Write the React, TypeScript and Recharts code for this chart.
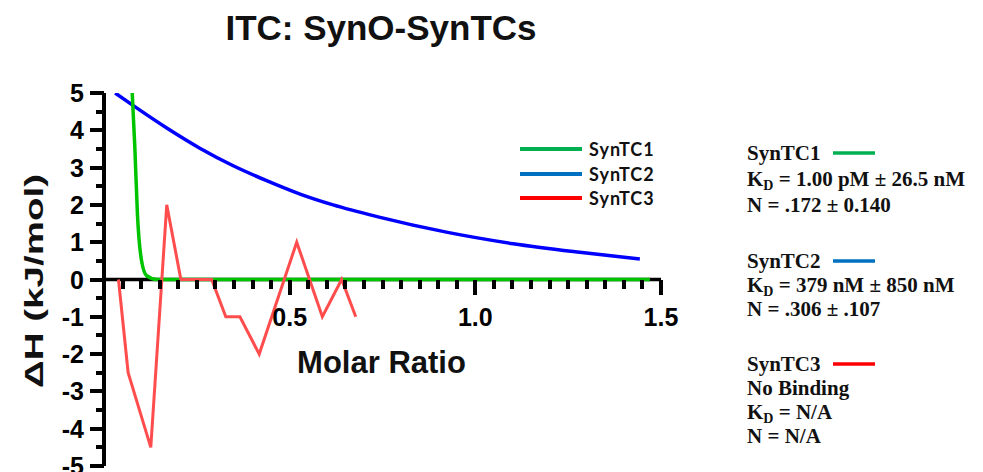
import { Legend, Line, LineChart, ReferenceLine, XAxis, YAxis } from "recharts";

const W = 983;
const H = 472;
// plot box: x 0 -> 104px, x 1.5 -> 661px, y 5 -> 93px, y -5 -> 466px
const PLOT = { left: 104, top: 93, right: 661, bottom: 466 };
const ZERO_Y = (PLOT.top + PLOT.bottom) / 2; // domain is symmetric, so y = 0 sits mid-plot

const SANS = "'Liberation Sans', Arial, sans-serif";
const SERIF = "'Liberation Serif', 'Times New Roman', serif";

const seriesNames = ["SynTC1", "SynTC2", "SynTC3"];
const lineColors = ["#00C400", "#0000FF", "#FF4D4D"];
const legendColors = ["#00B050", "#0070C0", "#FF0000"];

// SynTC1 – fitted curve, drops almost vertically near 0.08
const syntc1X = [0.076, 0.083, 0.09, 0.101, 0.115, 0.142, 0.3, 0.6, 1.0, 1.47];
const syntc1Y = [5.0, 3.55, 1.76, 0.51, 0.1, 0, 0, 0, 0, 0];

// SynTC2 – fitted curve
const syntc2X = [0.03, 0.079, 0.169, 0.258, 0.348, 0.438, 0.528, 0.617, 0.738, 0.922, 1.102, 1.281, 1.443];
const syntc2Y = [5.0, 4.66, 4.06, 3.52, 3.05, 2.65, 2.29, 2.0, 1.68, 1.27, 0.96, 0.73, 0.55];

// SynTC3 – raw injections, no binding
const syntc3X = [0.039, 0.065, 0.126, 0.169, 0.207, 0.29, 0.328, 0.366, 0.418, 0.519, 0.588, 0.64, 0.678];
const syntc3Y = [0, -2.5, -4.5, 2.0, 0, 0, -1, -1, -2, 1.0, -1, 0, -1];

const xTicks = [
  0.05, 0.1, 0.15, 0.2, 0.25, 0.3, 0.35, 0.4, 0.45, 0.5, 0.55, 0.6, 0.65, 0.7, 0.75,
  0.8, 0.85, 0.9, 0.95, 1.0, 1.05, 1.1, 1.15, 1.2, 1.25, 1.3, 1.35, 1.4, 1.45, 1.5,
];
const xLabels = [0.5, 1.0, 1.5];
const yTicks = [-5, -4.5, -4, -3.5, -3, -2.5, -2, -1.5, -1, -0.5, 0, 0.5, 1, 1.5, 2, 2.5, 3, 3.5, 4, 4.5, 5];

const toPoints = (xs: number[], ys: number[]) => xs.map((x, i) => ({ x, y: ys[i] }));

const syntc1 = toPoints(syntc1X, syntc1Y);
const syntc2 = toPoints(syntc2X, syntc2Y);
const syntc3 = toPoints(syntc3X, syntc3Y);

function XTick(props: any) {
  const { x, payload } = props;
  const v = payload.value as number;
  const major = xLabels.some((m) => Math.abs(m - v) < 1e-6);
  return (
    <g>
      <rect x={Math.round(x) - 2} y={Math.round(ZERO_Y)} width={4} height={major ? 15 : 9} fill="#000" />
      {major && (
        <text x={x} y={ZERO_Y + 46} textAnchor="middle" fontFamily={SANS} fontWeight="bold" fontSize={25} fill="#000">
          {v.toFixed(1)}
        </text>
      )}
    </g>
  );
}

function YTick(props: any) {
  const { x, y, payload } = props;
  const v = payload.value as number;
  const major = Number.isInteger(v);
  const len = major ? 14 : 8;
  return (
    <g>
      <rect x={Math.round(x) - len} y={Math.round(y) - 2} width={len} height={4} fill="#000" />
      {major && (
        <text x={x - 20} y={y} dy="0.36em" textAnchor="end" fontFamily={SANS} fontWeight="bold" fontSize={25} fill="#000">
          {String(v)}
        </text>
      )}
    </g>
  );
}

function ChartLegend() {
  return (
    <div style={{ fontFamily: "Lato, 'Open Sans', sans-serif", fontWeight: 700, fontSize: 18, color: "#111" }}>
      {seriesNames.map((name, i) => (
        <div key={name} style={{ display: "flex", alignItems: "center", height: 24.5 }}>
          <span style={{ display: "inline-block", width: 62, height: 4, background: legendColors[i], marginRight: 7 }} />
          <span style={{ letterSpacing: 1 }}>{name}</span>
        </div>
      ))}
    </div>
  );
}

function Notes() {
  const t = { fontFamily: SERIF, fontWeight: "bold" as const, fontSize: 21, fill: "#111" };
  const kd = (y: number, rest: string) => (
    <text x={747} y={y} {...t}>
      K<tspan fontSize={14} dy={4}>D</tspan>
      <tspan dy={-4}> = {rest}</tspan>
    </text>
  );
  return (
    <g>
      <text x={747} y={160} {...t}>SynTC1</text>
      <line x1={833} x2={875} y1={153} y2={153} stroke={legendColors[0]} strokeWidth={3.5} />
      {kd(186, "1.00 pM ± 26.5 nM")}
      <text x={747} y={212} {...t}>N = .172 ± 0.140</text>

      <text x={747} y={268} {...t}>SynTC2</text>
      <line x1={833} x2={875} y1={261} y2={261} stroke={legendColors[1]} strokeWidth={3.5} />
      {kd(292, "379 nM ± 850 nM")}
      <text x={747} y={316} {...t}>N = .306 ± .107</text>

      <text x={747} y={371} {...t}>SynTC3</text>
      <line x1={833} x2={875} y1={364} y2={364} stroke={legendColors[2]} strokeWidth={3.5} />
      <text x={747} y={395} {...t}>No Binding</text>
      {kd(419, "N/A")}
      <text x={747} y={443} {...t}>N = N/A</text>
    </g>
  );
}

export default function App() {
  return (
    <div style={{ position: "absolute", left: 0, top: 0, width: W, height: H, background: "#fff" }}>
      <LineChart
        width={W}
        height={H}
        margin={{ top: PLOT.top, right: W - PLOT.right, bottom: H - PLOT.bottom - 6, left: 0 }}
      >
        <ReferenceLine y={0} stroke="#000" strokeWidth={3.5} ifOverflow="visible" />
        <XAxis
          type="number"
          dataKey="x"
          domain={[0, 1.5]}
          ticks={xTicks}
          interval={0}
          tick={<XTick />}
          tickLine={false}
          axisLine={false}
          tickSize={0}
          tickMargin={0}
          height={6}
          allowDataOverflow
        />
        <YAxis
          type="number"
          dataKey="y"
          domain={[-5, 5]}
          ticks={yTicks}
          interval={0}
          tick={<YTick />}
          tickLine={false}
          axisLine={{ stroke: "#000", strokeWidth: 4 }}
          tickSize={0}
          tickMargin={0}
          width={PLOT.left}
          allowDataOverflow
        />
        <Legend
          layout="vertical"
          align="center"
          verticalAlign="middle"
          content={<ChartLegend />}
          wrapperStyle={{ position: "absolute", left: 520, top: 137, width: 160 }}
        />
        <Line data={syntc2} dataKey="y" name={seriesNames[1]} type="monotone" stroke={lineColors[1]} strokeWidth={3.5} dot={false} isAnimationActive={false} />
        <Line data={syntc1} dataKey="y" name={seriesNames[0]} type="monotone" stroke={lineColors[0]} strokeWidth={3.5} dot={false} isAnimationActive={false} />
        <Line data={syntc3} dataKey="y" name={seriesNames[2]} type="linear" stroke={lineColors[2]} strokeWidth={3} dot={false} isAnimationActive={false} />
      </LineChart>
      <svg width={W} height={H} style={{ position: "absolute", left: 0, top: 0, pointerEvents: "none" }}>
        <text x={381} y={40} textAnchor="middle" fontFamily={SANS} fontWeight="bold" fontSize={35} fill="#111">
          ITC: SynO-SynTCs
        </text>
        <text x={381.5} y={373} textAnchor="middle" fontFamily={SANS} fontWeight="bold" fontSize={31} fill="#111">
          Molar Ratio
        </text>
        <text
          transform="translate(43, 281) rotate(-90)"
          textAnchor="middle"
          fontFamily={SANS}
          fontWeight="bold"
          fontSize={25}
          fill="#111"
          textLength={214}
          lengthAdjust="spacingAndGlyphs"
        >
          ΔH (kJ/mol)
        </text>
        <Notes />
      </svg>
    </div>
  );
}
